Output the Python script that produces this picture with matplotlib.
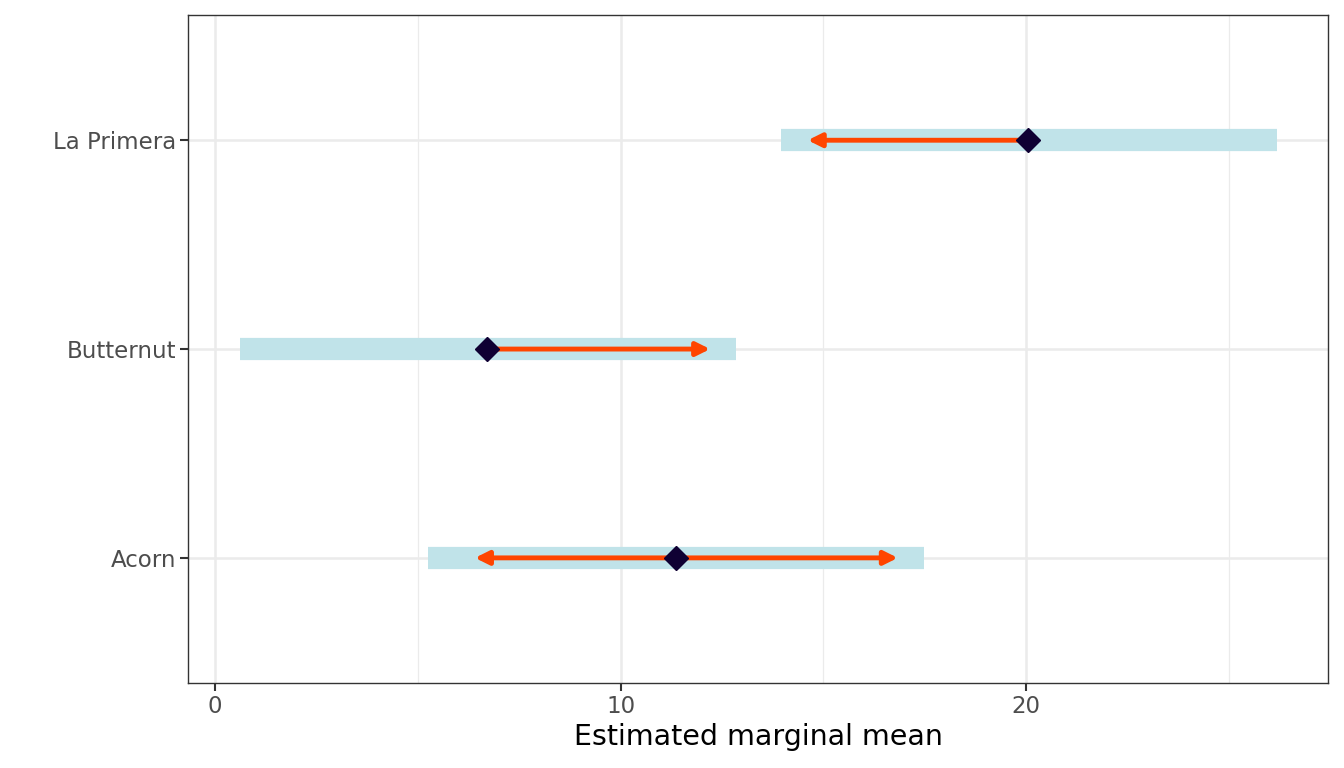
import matplotlib
matplotlib.use("Agg")
import matplotlib.pyplot as plt

# emmeans with comparison arrows
varieties = ["Acorn", "Butternut", "La Primera"]
emmean = [11.37, 6.71, 20.05]
lower_cl = [5.25, 0.62, 13.96]
upper_cl = [17.48, 12.85, 26.19]
# arrow tips (None = no arrow on that side)
arrow_lo = [6.41, None, 14.62]
arrow_hi = [16.84, 12.21, None]

fig, ax = plt.subplots(figsize=(13.44, 7.68), dpi=100)
fig.subplots_adjust(left=0.14, right=0.988, top=0.98, bottom=0.111)

ypos = range(1, len(varieties) + 1)

for y, m, lo, hi, alo, ahi in zip(ypos, emmean, lower_cl, upper_cl, arrow_lo, arrow_hi):
    ax.plot([lo, hi], [y, y], color="#C0E3E9", lw=16, solid_capstyle="butt", zorder=2)
    for tip in (alo, ahi):
        if tip is None:
            continue
        ax.annotate("", xy=(tip, y), xytext=(m, y),
                    arrowprops=dict(arrowstyle="-|>,head_length=0.8,head_width=0.4",
                                    color="#FF4500", lw=3.5,
                                    shrinkA=0, shrinkB=0),
                    zorder=3)
    ax.plot(m, y, marker="D", markersize=12, color="#0F0033", zorder=4)

ax.set_xlim(-0.666, 27.45)
ax.set_ylim(0.402, 3.598)
ax.set_yticks(list(ypos))
ax.set_yticklabels(varieties)
ax.set_xticks([0, 10, 20])
ax.set_xticks([5, 15, 25], minor=True)

ax.grid(True, which="major", color="#EBEBEB", lw=1.8)
ax.grid(True, which="minor", axis="x", color="#EBEBEB", lw=0.9)
ax.set_axisbelow(True)
ax.tick_params(which="major", length=5.5, width=1.5, color="#333333",
               labelsize=16.5, labelcolor="#4D4D4D", pad=3)
ax.tick_params(which="minor", length=0)
for s in ax.spines.values():
    s.set_color("#333333")
    s.set_linewidth(1.0)

ax.set_xlabel("Estimated marginal mean", fontsize=20.5, color="black", labelpad=4)

fig.savefig("out.png", dpi=100)
